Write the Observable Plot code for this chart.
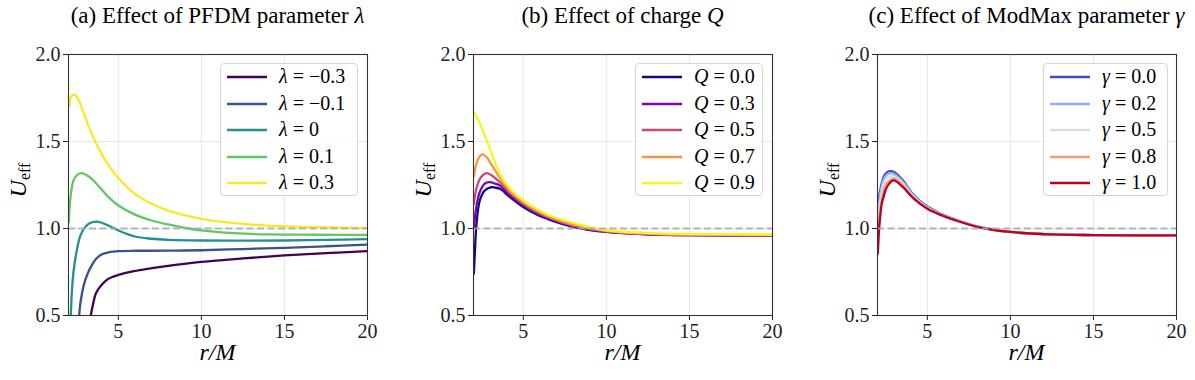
<!DOCTYPE html>
<html><head><meta charset="utf-8">
<script src="https://cdn.jsdelivr.net/npm/d3@7"></script>
<script src="https://cdn.jsdelivr.net/npm/@observablehq/plot@0.6"></script>
<style>
body{margin:0;background:#fff;}
#fig{position:relative;width:1195px;height:380px;font-family:'Liberation Serif','Times New Roman',Times,'DejaVu Serif',serif;color:#000;overflow:hidden}
.panel{position:absolute;top:0}
.title{position:absolute;top:3px;font-size:23px;white-space:nowrap;transform:translateX(-50%)}
.xlab{position:absolute;top:339px;font-size:24px;font-style:italic;white-space:nowrap;transform:translateX(-50%)}
.ylab{position:absolute;font-size:24px;white-space:nowrap;transform:translate(-50%,-50%) rotate(-90deg)}
.ylab sub{font-size:16px;font-style:normal;vertical-align:-4px}
.legend{position:absolute;top:63px;height:133px;border:1px solid #d6d6d6;border-radius:4px;background:rgba(255,255,255,0.85);box-sizing:border-box}
.row{height:26.5px;position:relative}
.row svg{position:absolute;left:6px;top:11px}
.row span{position:absolute;left:58px;top:1px;font-size:20px;white-space:nowrap}
</style>
</head><body>
<div id="fig"></div>
<script>
// ---------- Panel (a): PFDM parameter lambda ----------
const lambdaLabels = ["−0.3", "−0.1", "0", "0.1", "0.3"];
const lamA_r = [3.34, 3.44, 3.64, 3.85, 4.25, 4.6, 5.0, 5.8, 6.65, 8, 10, 12.5, 15, 17.5, 20];
const lamA_u = [0.50, 0.548, 0.625, 0.659, 0.701, 0.72, 0.733, 0.752, 0.766, 0.785, 0.808, 0.828, 0.845, 0.858, 0.870];
const lamB_r = [2.64, 2.74, 2.94, 3.15, 3.34, 3.65, 4.05, 4.5, 5.0, 6, 7, 8.5, 10, 12.5, 15, 17.5, 20];
const lamB_u = [0.50, 0.586, 0.682, 0.74, 0.778, 0.825, 0.853, 0.865, 0.870, 0.872, 0.872, 0.873, 0.875, 0.882, 0.889, 0.898, 0.908];
const lamC_r = [2.14, 2.2, 2.3, 2.5, 2.7, 3.0, 3.3, 3.7, 4.0, 4.4, 5.0, 6.0, 7.0, 8, 10, 12.5, 15, 17.5, 20];
const lamC_u = [0.50, 0.63, 0.75, 0.874, 0.955, 1.008, 1.032, 1.040, 1.033, 1.017, 0.989, 0.954, 0.941, 0.935, 0.931, 0.930, 0.931, 0.935, 0.939];
const lamD_r = [2.02, 2.1, 2.3, 2.55, 2.8, 3.2, 3.6, 4.41, 5.0, 6.0, 7.0, 8.0, 9.0, 10, 12, 14, 17, 20];
const lamD_u = [1.036, 1.16, 1.276, 1.31, 1.318, 1.300, 1.266, 1.180, 1.132, 1.080, 1.046, 1.023, 1.004, 0.989, 0.973, 0.966, 0.964, 0.963];
const lamE_r = [2.06, 2.14, 2.34, 2.54, 2.84, 3.2, 3.63, 3.9, 4.4, 5.0, 6.0, 7.0, 8.0, 10, 12, 14, 17, 20];
const lamE_u = [1.707, 1.755, 1.770, 1.750, 1.685, 1.590, 1.495, 1.445, 1.365, 1.290, 1.199, 1.142, 1.103, 1.056, 1.031, 1.017, 1.008, 1.002];

// ---------- Panel (b): charge Q ----------
const qLabels = ["0.0", "0.3", "0.5", "0.7", "0.9"];
const qA_r = [2.02, 2.1, 2.18, 2.38, 2.68, 3.03, 3.3, 3.59, 4.2, 5, 5.8, 6.6, 8, 10, 12.5, 15, 20];
const qA_u = [0.74, 0.90, 1.027, 1.161, 1.218, 1.237, 1.235, 1.228, 1.180, 1.123, 1.080, 1.050, 1.010, 0.980, 0.966, 0.962, 0.960];
const qB_r = [2.02, 2.18, 2.38, 2.68, 2.95, 3.3, 3.59, 4.2, 5, 5.8, 6.6, 8, 10, 12.5, 15, 20];
const qB_u = [1.00, 1.13, 1.21, 1.258, 1.266, 1.258, 1.247, 1.190, 1.132, 1.088, 1.056, 1.014, 0.982, 0.967, 0.962, 0.960];
const qC_r = [2.02, 2.2, 2.45, 2.79, 3.1, 3.59, 4.2, 5, 5.8, 6.6, 8, 10, 12.5, 15, 20];
const qC_u = [1.142, 1.24, 1.295, 1.318, 1.305, 1.266, 1.205, 1.142, 1.095, 1.060, 1.017, 0.984, 0.968, 0.963, 0.961];
const qD_r = [2.02, 2.2, 2.48, 2.75, 2.99, 3.59, 4.2, 5, 5.8, 6.6, 8, 10, 12.5, 15, 20];
const qD_u = [1.299, 1.38, 1.425, 1.415, 1.381, 1.291, 1.215, 1.151, 1.103, 1.066, 1.022, 0.987, 0.970, 0.965, 0.963];
const qE_r = [2.02, 2.2, 2.48, 2.99, 3.59, 4.2, 5, 5.8, 6.6, 8.22, 10, 12.5, 15, 20];
const qE_u = [1.668, 1.640, 1.582, 1.458, 1.314, 1.228, 1.161, 1.113, 1.075, 1.027, 0.990, 0.974, 0.968, 0.965];

// ---------- Panel (c): ModMax parameter gamma ----------
const gLabels = ["0.0", "0.2", "0.5", "0.8", "1.0"];
const gA_r = [2.02, 2.16, 2.36, 2.56, 2.76, 3.0, 3.5, 4.2, 5, 5.8, 6.6, 8, 10, 12.5, 15, 20];
const gA_u = [1.12, 1.218, 1.295, 1.322, 1.330, 1.325, 1.280, 1.190, 1.126, 1.085, 1.055, 1.012, 0.980, 0.966, 0.962, 0.960];
const gB_r = [2.02, 2.16, 2.36, 2.56, 2.8, 3.0, 3.5, 4.2, 5, 5.8, 6.6, 8, 10, 12.5, 15, 20];
const gB_u = [1.06, 1.19, 1.28, 1.31, 1.318, 1.313, 1.272, 1.185, 1.122, 1.083, 1.054, 1.012, 0.980, 0.966, 0.962, 0.960];
const gC_r = [2.02, 2.16, 2.36, 2.56, 2.85, 3.0, 3.5, 4.2, 5, 5.8, 6.6, 8, 10, 12.5, 15, 20];
const gC_u = [1.00, 1.15, 1.255, 1.29, 1.300, 1.298, 1.260, 1.179, 1.118, 1.081, 1.052, 1.011, 0.980, 0.966, 0.962, 0.960];
const gD_r = [2.02, 2.16, 2.36, 2.56, 2.9, 3.1, 3.5, 4.2, 5, 5.8, 6.6, 8, 10, 12.5, 15, 20];
const gD_u = [0.95, 1.10, 1.215, 1.26, 1.285, 1.283, 1.250, 1.174, 1.115, 1.079, 1.051, 1.010, 0.980, 0.966, 0.962, 0.960];
const gE_r = [2.02, 2.1, 2.16, 2.25, 2.36, 2.56, 2.96, 3.5, 4.2, 5, 5.8, 6.6, 8, 10, 12.5, 15, 20];
const gE_u = [0.855, 1.0, 1.065, 1.14, 1.18, 1.237, 1.276, 1.240, 1.170, 1.113, 1.078, 1.050, 1.010, 0.980, 0.966, 0.962, 0.960];

const xTicks = [5, 10, 15, 20];
const yTicks = [0.5, 1.0, 1.5, 2.0];
const refLevel = [1];

// styles
const viridis = ["#440154", "#3b528b", "#21918c", "#5ec962", "#fde725"];
const plasma = ["#0d0887", "#7e03a8", "#cc4778", "#f89540", "#f0f921"];
const coolwarm = ["#3b4cc0", "#8db0fe", "#dddddd", "#f49a7b", "#b40426"];
const FONT = "'Liberation Serif', 'Times New Roman', Times, 'DejaVu Serif', serif";

function table(labels, rs, us) {
  const rows = [];
  labels.forEach((s, i) => rs[i].forEach((r, j) => rows.push({s, r, u: us[i][j]})));
  return rows;
}

const panels = [
  {sym: "λ", title: "(a) Effect of PFDM parameter ", labels: lambdaLabels, colors: viridis,
   data: table(lambdaLabels, [lamA_r, lamB_r, lamC_r, lamD_r, lamE_r], [lamA_u, lamB_u, lamC_u, lamD_u, lamE_u]),
   left: 0, W: 400, legendLeft: 220, legendW: 138},
  {sym: "Q", title: "(b) Effect of charge ", labels: qLabels, colors: plasma,
   data: table(qLabels, [qA_r, qB_r, qC_r, qD_r, qE_r], [qA_u, qB_u, qC_u, qD_u, qE_u]),
   left: 405, W: 400, legendLeft: 635, legendW: 128},
  {sym: "γ", title: "(c) Effect of ModMax parameter ", labels: gLabels, colors: coolwarm,
   data: table(gLabels, [gA_r, gB_r, gC_r, gD_r, gE_r], [gA_u, gB_u, gC_u, gD_u, gE_u]),
   left: 809, W: 386, legendLeft: 1043, legendW: 125}
];

const fig = document.getElementById("fig");
const plotW = 299, mL = 68;

panels.forEach(p => {
  const chart = Plot.plot({
    width: p.W, height: 380,
    marginTop: 54, marginBottom: 65, marginLeft: mL, marginRight: p.W - mL - plotW,
    x: {domain: [2, 20]},
    y: {domain: [0.5, 2.0]},
    color: {domain: p.labels, range: p.colors},
    style: {fontFamily: FONT, fontSize: "20px", color: "#222", background: "transparent", overflow: "visible"},
    marks: [
      Plot.gridX(xTicks, {stroke: "#e3e3e3", strokeOpacity: 1, strokeWidth: 0.9}),
      Plot.gridY(yTicks, {stroke: "#e3e3e3", strokeOpacity: 1, strokeWidth: 0.9}),
      Plot.line(p.data, {x: "r", y: "u", z: "s", stroke: "s", strokeWidth: 2.3, curve: "catmull-rom", clip: true}),
      Plot.ruleY(refLevel, {stroke: "#a8a8a8", strokeOpacity: 0.85, strokeWidth: 2, strokeDasharray: "7,3.5"}),
      Plot.frame({stroke: "#333", strokeWidth: 1.1}),
      Plot.axisX({ticks: xTicks, tickSize: 5, tickPadding: 3, label: null, fontSize: 20, fontFamily: FONT}),
      Plot.axisY({ticks: yTicks, tickSize: 5, tickPadding: 3, label: null, fontSize: 20, fontFamily: FONT, tickFormat: d3.format(".1f")})
    ]
  });
  const wrap = document.createElement("div");
  wrap.className = "panel";
  wrap.style.left = p.left + "px";
  wrap.appendChild(chart);
  fig.appendChild(wrap);

  const cx = p.left + mL + plotW / 2;
  const t = document.createElement("div");
  t.className = "title";
  t.style.left = cx + "px";
  t.innerHTML = p.title + "<i>" + p.sym + "</i>";
  fig.appendChild(t);

  const xl = document.createElement("div");
  xl.className = "xlab";
  xl.style.left = cx + "px";
  xl.textContent = "r/M";
  fig.appendChild(xl);

  const yl = document.createElement("div");
  yl.className = "ylab";
  yl.style.left = (p.left + 19) + "px";
  yl.style.top = "180px";
  yl.innerHTML = "<i>U</i><sub>eff</sub>";
  fig.appendChild(yl);

  const lg = document.createElement("div");
  lg.className = "legend";
  lg.style.left = p.legendLeft + "px";
  lg.style.width = p.legendW + "px";
  p.labels.forEach((lab, i) => {
    const row = document.createElement("div");
    row.className = "row";
    row.innerHTML = `<svg width="40" height="4"><line x1="0" x2="40" y1="2" y2="2" stroke="${p.colors[i]}" stroke-width="2.5"/></svg><span><i>${p.sym}</i> = ${lab}</span>`;
    lg.appendChild(row);
  });
  fig.appendChild(lg);
});
</script>
</body></html>
